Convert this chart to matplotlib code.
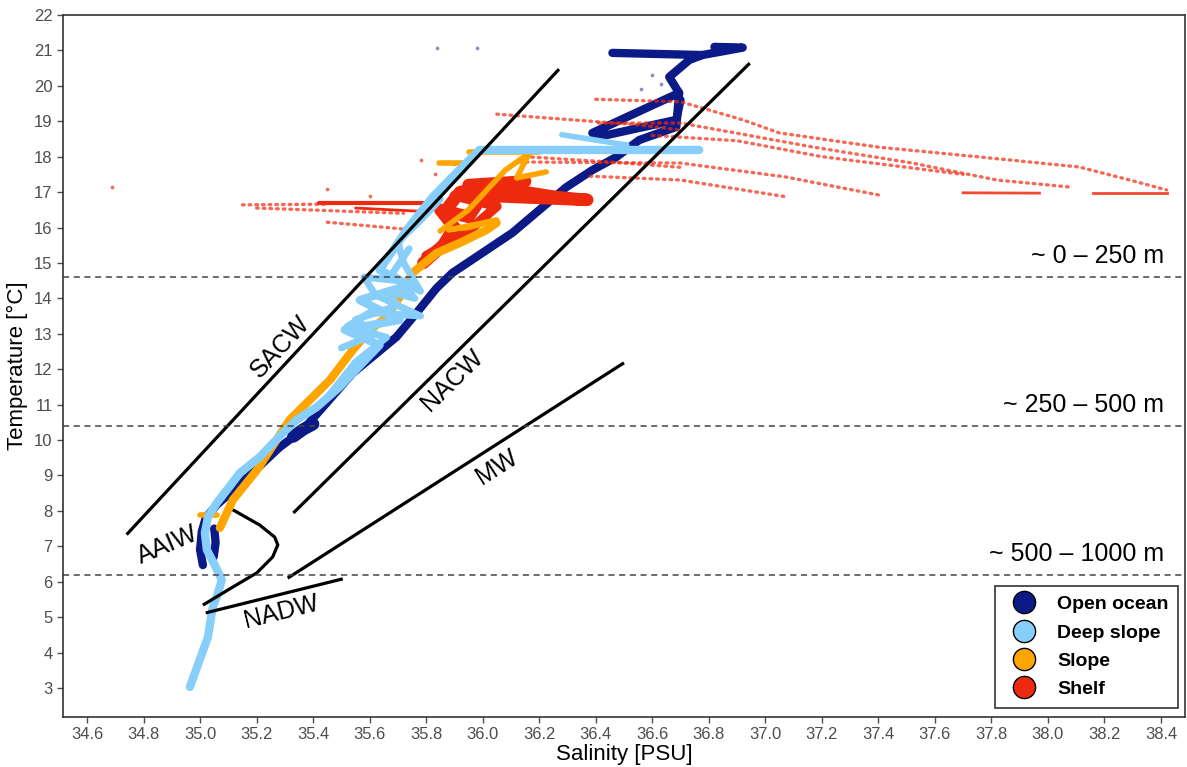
import numpy as np
import matplotlib.pyplot as plt
from matplotlib.lines import Line2D

plt.rcParams['font.family'] = ['Liberation Sans', 'DejaVu Sans']

# ---- colours ----
c_ocean = '#0B1A87'
c_deep = '#87CEFA'
c_slope = '#FFA500'
c_shelf = '#EE2A0E'

# ---- Open ocean (S, T) ----
ocean_main_s = [35.010, 35.000, 35.006, 35.020, 35.059, 35.130, 35.222, 35.282, 35.363, 35.448,
                35.540, 35.695, 35.766, 35.837, 35.893, 36.105, 36.296, 36.388, 36.473, 36.554,
                36.685, 36.695, 36.660, 36.731, 36.777, 36.459]
ocean_main_t = [6.47, 6.90, 7.41, 7.80, 8.17, 8.67, 9.35, 9.80, 10.28, 11.05,
                11.89, 12.91, 13.59, 14.29, 14.72, 15.85, 17.14, 17.62, 17.99, 18.47,
                18.84, 19.80, 20.25, 20.73, 20.87, 20.93]
ocean_loop_s = [36.695, 36.388, 36.410, 36.685, 36.700]
ocean_loop_t = [19.80, 18.67, 18.56, 19.04, 19.60]
ocean_top_s = [36.777, 36.880, 36.920, 36.820]
ocean_top_t = [20.87, 21.02, 21.08, 21.10]
ocean_blob_s = [35.330, 35.365, 35.400]
ocean_blob_t = [10.10, 10.30, 10.45]
ocean_col_s = [35.050, 35.055, 35.048]
ocean_col_t = [7.50, 7.10, 6.70]
ocean_dots_s = [35.837, 35.980, 36.600, 36.630, 36.560]
ocean_dots_t = [21.07, 21.07, 20.30, 20.05, 19.90]

# ---- Deep slope ----
deep_main_s = [34.964, 35.028, 35.045, 35.059, 35.077, 35.052, 35.024, 35.017, 35.028, 35.059,
               35.095, 35.141, 35.211, 35.293, 35.342, 35.413, 35.494, 35.540, 35.635, 35.512,
               35.706, 35.565, 35.741, 35.635, 35.731, 35.823, 35.893, 35.953, 35.989, 36.766]
deep_main_t = [3.03, 4.44, 5.29, 5.57, 6.05, 6.47, 6.90, 7.38, 7.83, 8.22,
               8.59, 9.07, 9.52, 10.20, 10.57, 10.93, 11.50, 11.89, 12.68, 13.11,
               13.39, 13.95, 14.38, 14.80, 15.93, 16.86, 17.43, 17.91, 18.19, 18.19]
deep_b_s = [35.45, 35.55, 35.66, 35.52, 35.60, 35.78, 35.62, 35.58, 35.70, 35.78, 35.72, 35.70, 35.78, 35.85]
deep_b_t = [11.20, 12.20, 12.90, 13.20, 13.60, 13.50, 14.10, 14.60, 14.50, 14.20, 15.00, 15.60, 16.20, 16.80]
deep_c_s = [35.50, 35.62, 35.55, 35.70, 35.66, 35.76, 35.68, 35.74]
deep_c_t = [12.60, 13.00, 13.40, 13.80, 14.20, 14.00, 14.70, 15.40]
deep_top_s = [36.28, 36.51]
deep_top_t = [18.62, 18.33]

# ---- Slope ----
slope_main_s = [35.070, 35.116, 35.201, 35.317, 35.459, 35.540, 35.601, 35.660, 35.706, 35.752,
                35.837, 35.918, 36.013, 36.049]
slope_main_t = [7.52, 8.31, 9.15, 10.57, 11.69, 12.54, 13.11, 13.47, 14.04, 14.72,
                15.28, 15.56, 15.93, 16.13]
slope_short_s = [35.000, 35.060]
slope_short_t = [7.88, 7.88]
slope_top_s = [35.85, 35.95, 36.08, 36.165, 36.12, 36.225]
slope_top_t = [15.90, 16.50, 17.62, 18.10, 17.40, 17.57]
slope_h1_s = [35.953, 36.201]
slope_h1_t = [18.13, 18.13]
slope_h2_s = [35.847, 35.943]
slope_h2_t = [17.82, 17.82]
slope_loop_s = [35.88, 36.05, 35.95, 35.88]
slope_loop_t = [15.93, 16.21, 16.00, 15.95]

# ---- Shelf ----
shelf_dense_s = [35.79, 35.86, 35.90, 35.85, 35.95, 36.00, 36.37, 36.05, 35.95, 36.15, 35.92, 35.88]
shelf_dense_t = [15.00, 15.50, 16.00, 16.50, 16.30, 16.90, 16.78, 17.00, 17.20, 17.30, 17.00, 16.60]
shelf_dense2_s = [35.80, 35.95, 36.05, 35.90, 36.10, 36.30]
shelf_dense2_t = [15.20, 15.90, 16.60, 16.90, 17.10, 16.85]
shelf_h1_s = [35.42, 35.82]
shelf_h1_t = [16.70, 16.70]
shelf_h2_s = [35.55, 35.80]
shelf_h2_t = [16.55, 16.45]
shelf_rows = {
    'left1': ([35.15, 35.45], [16.64, 16.66]),
    'left2': ([35.20, 35.72], [16.55, 16.40]),
    'left3': ([35.45, 35.73], [16.15, 15.95]),
    'top': ([36.40, 36.70, 36.80, 36.92, 37.05, 37.40, 37.76, 38.11, 38.29, 38.42],
            [19.62, 19.55, 19.32, 19.04, 18.67, 18.27, 17.99, 17.71, 17.34, 17.06]),
    'mid': ([36.41, 36.70, 37.17, 37.52, 37.82, 38.08], [18.95, 18.95, 18.27, 17.82, 17.34, 17.14]),
    'mid2': ([36.60, 36.90, 37.20, 37.50, 37.70], [18.60, 18.45, 18.00, 17.70, 17.50]),
    'low1': ([36.13, 36.70, 37.07, 37.40], [17.85, 17.82, 17.43, 16.92]),
    'low2': ([36.38, 36.70, 37.08], [17.45, 17.34, 16.86]),
    'up2': ([36.05, 36.30, 36.55, 36.70], [19.20, 19.05, 18.90, 18.75]),
    'up3': ([36.15, 36.45, 36.70], [18.00, 17.85, 17.70]),
}
shelf_right1_s = [37.70, 37.97]
shelf_right1_t = [16.98, 16.97]
shelf_right2_s = [38.16, 38.42]
shelf_right2_t = [16.97, 16.97]
shelf_dots_s = [34.69, 35.45, 35.78, 35.83, 35.90, 35.60]
shelf_dots_t = [17.15, 17.09, 17.90, 17.50, 17.80, 16.90]

# ---- water mass lines ----
sacw_s, sacw_t = [34.74, 36.27], [7.33, 20.47]
nacw_s, nacw_t = [35.33, 36.945], [7.94, 20.64]
mw_s, mw_t = [35.31, 36.50], [6.10, 12.18]
nadw_s, nadw_t = [35.02, 35.505], [5.12, 6.08]
aaiw_s = [35.116, 35.211, 35.264, 35.275, 35.257, 35.201, 35.116, 35.010]
aaiw_t = [8.03, 7.60, 7.26, 7.04, 6.70, 6.25, 5.85, 5.34]

depth_lines = [14.6, 10.4, 6.2]
depth_labels = ['~ 0 – 250 m', '~ 250 – 500 m', '~ 500 – 1000 m']

# ---- figure ----
fig = plt.figure(figsize=(11.87, 7.67), dpi=100)
ax = fig.add_axes([63 / 1187, 1 - 717 / 767, 1122 / 1187, 702 / 767])

lw = 6
rnd = dict(solid_capstyle='round', solid_joinstyle='round')
# open ocean
for s, t in [(ocean_main_s, ocean_main_t), (ocean_loop_s, ocean_loop_t), (ocean_col_s, ocean_col_t)]:
    ax.plot(s, t, color=c_ocean, lw=lw, **rnd)
ax.plot(ocean_top_s, ocean_top_t, color=c_ocean, lw=6, **rnd)
ax.plot(ocean_blob_s, ocean_blob_t, color=c_ocean, lw=9, **rnd)
ax.scatter(ocean_dots_s, ocean_dots_t, s=7, color=c_ocean, alpha=0.5, lw=0)

# shelf
for s, t in shelf_rows.values():
    ax.plot(s, t, color=c_shelf, lw=2.4, alpha=0.7, linestyle=(0, (0.5, 1.5)), dash_capstyle='round')
ax.plot(shelf_dense_s, shelf_dense_t, color=c_shelf, lw=9, **rnd)
ax.plot(shelf_dense2_s, shelf_dense2_t, color=c_shelf, lw=7, **rnd)
ax.plot(shelf_h1_s, shelf_h1_t, color=c_shelf, lw=3, solid_capstyle='round')
ax.plot(shelf_h2_s, shelf_h2_t, color=c_shelf, lw=2, solid_capstyle='round')
ax.plot(shelf_right1_s, shelf_right1_t, color=c_shelf, lw=2, alpha=0.85)
ax.plot(shelf_right2_s, shelf_right2_t, color=c_shelf, lw=2, alpha=0.85)
ax.scatter(shelf_dots_s, shelf_dots_t, s=7, color=c_shelf, alpha=0.7, lw=0)

# slope
ax.plot(slope_main_s, slope_main_t, color=c_slope, lw=lw, **rnd)
for s, t in [(slope_short_s, slope_short_t), (slope_top_s, slope_top_t), (slope_h1_s, slope_h1_t),
             (slope_h2_s, slope_h2_t), (slope_loop_s, slope_loop_t)]:
    ax.plot(s, t, color=c_slope, lw=4, **rnd)

# deep slope
ax.plot(deep_main_s, deep_main_t, color=c_deep, lw=lw, **rnd)
ax.plot(deep_b_s, deep_b_t, color=c_deep, lw=5, **rnd)
ax.plot(deep_c_s, deep_c_t, color=c_deep, lw=5, **rnd)
ax.plot(deep_top_s, deep_top_t, color=c_deep, lw=4, solid_capstyle='round')

# water masses
for s, t in [(sacw_s, sacw_t), (nacw_s, nacw_t), (mw_s, mw_t), (nadw_s, nadw_t), (aaiw_s, aaiw_t)]:
    ax.plot(s, t, color='black', lw=2.3, solid_capstyle='butt')

lab_kw = dict(fontsize=18, ha='center', va='center', rotation_mode='anchor')
ax.text(35.282, 12.63, 'SACW', rotation=47, **lab_kw)
ax.text(35.893, 11.69, 'NACW', rotation=44.5, **lab_kw)
ax.text(36.049, 9.24, 'MW', rotation=32.5, **lab_kw)
ax.text(34.886, 7.04, 'AAIW', rotation=23, **lab_kw)
ax.text(35.289, 5.15, 'NADW', rotation=14, **lab_kw)

for y, lab in zip(depth_lines, depth_labels):
    ax.axhline(y, color='#444444', lw=1.1, linestyle=(0, (4, 3)))
    ax.text(38.41, y + 0.25, lab, fontsize=18, ha='right', va='bottom')

ax.set_xlim(34.515, 38.485)
ax.set_ylim(2.18, 22.0)
ax.set_xticks(np.round(np.arange(34.6, 38.41, 0.2), 1))
ax.set_xticklabels(['%.1f' % v for v in np.arange(34.6, 38.41, 0.2)])
ax.set_yticks(range(3, 23))
ax.tick_params(colors='#4D4D4D', labelsize=12, length=4, width=1)
for sp in ax.spines.values():
    sp.set_color('#333333')
    sp.set_linewidth(1.2)
ax.set_xlabel('Salinity [PSU]', fontsize=16, labelpad=1)
ax.set_ylabel('Temperature [°C]', fontsize=16, labelpad=4)

handles = [Line2D([], [], marker='o', linestyle='', markersize=16, markerfacecolor=c,
                  markeredgecolor='black', markeredgewidth=1) for c in [c_ocean, c_deep, c_slope, c_shelf]]
leg = ax.legend(handles, ['Open ocean', 'Deep slope', 'Slope', 'Shelf'], loc='lower right',
                bbox_to_anchor=(0.994, 0.013), frameon=True, fancybox=False, edgecolor='black',
                prop={'weight': 'bold', 'size': 14}, labelspacing=0.55, handletextpad=0.7,
                borderpad=0.5, borderaxespad=0)
leg.get_frame().set_linewidth(1.2)

fig.savefig('out.png', dpi=100)
